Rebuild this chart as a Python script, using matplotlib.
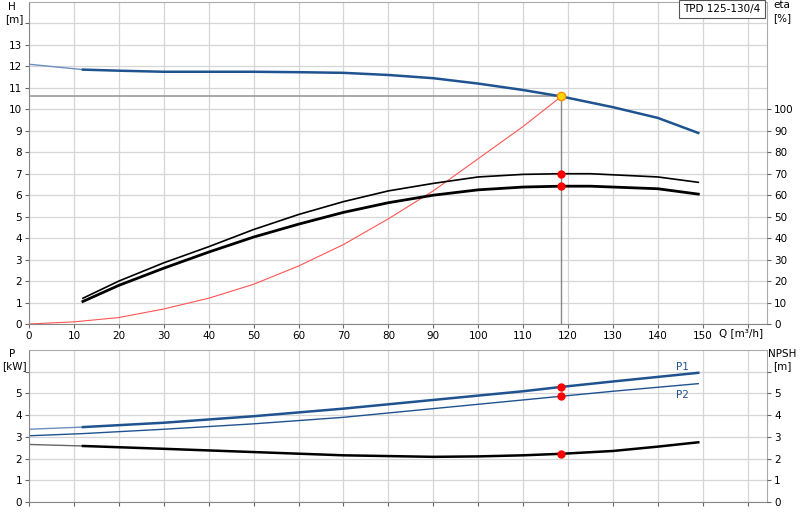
import matplotlib
matplotlib.use("Agg")
import matplotlib.pyplot as plt

q_h = [0, 12, 20, 30, 40, 50, 60, 70, 80, 90, 100, 110, 118.5, 130, 140, 149]
h = [12.1, 11.85, 11.8, 11.75, 11.75, 11.75, 11.73, 11.7, 11.6, 11.45, 11.2, 10.9, 10.6, 10.1, 9.6, 8.9]
q_eta = [12, 20, 30, 40, 50, 60, 70, 80, 90, 100, 110, 118.5, 125, 140, 149]
eta1 = [1.2, 2.0, 2.85, 3.6, 4.4, 5.1, 5.7, 6.2, 6.55, 6.85, 6.97, 7.0, 7.0, 6.85, 6.6]
eta2 = [1.05, 1.8, 2.6, 3.35, 4.05, 4.65, 5.2, 5.65, 6.0, 6.25, 6.38, 6.42, 6.42, 6.3, 6.05]
q_sys = [0, 10, 20, 30, 40, 50, 60, 70, 80, 90, 100, 110, 118.5]
h_sys = [0, 0.1, 0.3, 0.7, 1.2, 1.85, 2.7, 3.7, 4.9, 6.2, 7.7, 9.2, 10.6]
q_p = [0, 12, 30, 50, 70, 90, 110, 118.5, 130, 149]
p1 = [3.35, 3.45, 3.65, 3.95, 4.3, 4.7, 5.1, 5.3, 5.55, 5.95]
p2 = [3.05, 3.15, 3.35, 3.6, 3.9, 4.3, 4.7, 4.87, 5.1, 5.45]
q_n = [0, 12, 30, 50, 70, 90, 100, 110, 118.5, 130, 140, 149]
npsh = [2.65, 2.58, 2.45, 2.3, 2.15, 2.08, 2.1, 2.15, 2.22, 2.35, 2.55, 2.75]
q_op, h_op = 118.5, 10.6

BLUE = "#1f5390"
W, H_ = 800, 520
fig = plt.figure(figsize=(8, 5.2), dpi=100)
ax = fig.add_axes([29/W, 1-324/H_, 738/W, 322/H_])
bx = fig.add_axes([29/W, 1-502/H_, 738/W, 152/H_])
fs = 7.5

def style(a, ymax, ticks):
    a.set_xlim(0, 164.3)
    a.set_ylim(0, ymax)
    a.set_xticks(range(0, 161, 10))
    a.set_yticks(ticks)
    a.grid(True, color="#d6d6d6", lw=0.9)
    a.set_axisbelow(True)
    for s in a.spines.values():
        s.set_color("#aaaaaa")
    a.spines["left"].set_color("#888888")
    a.spines["bottom"].set_color("#888888")
    a.tick_params(labelsize=fs, length=3, color="#666666", pad=2)

style(ax, 15, range(0, 15))
ax.set_yticklabels([str(i) if i <= 13 else "" for i in range(0, 15)])
ax.set_xticklabels([str(i) if i <= 150 else "" for i in range(0, 161, 10)])
style(bx, 7, range(0, 7))
bx.set_yticklabels([str(i) if i <= 5 else "" for i in range(0, 7)])
bx.set_xticklabels([])

ax2 = ax.twinx()
ax2.set_ylim(0, 150)
ax2.set_yticks(range(0, 101, 10))
ax2.tick_params(labelsize=fs, length=3, color="#666666", pad=2)
for s in ax2.spines.values():
    s.set_visible(False)
bx2 = bx.twinx()
bx2.set_ylim(0, 7)
bx2.set_yticks(range(0, 7))
bx2.set_yticklabels([str(i) if i <= 5 else "" for i in range(0, 7)])
bx2.tick_params(labelsize=fs, length=3, color="#666666", pad=2)
for s in bx2.spines.values():
    s.set_visible(False)

ax.plot([0, q_op], [h_op, h_op], color="#999999", lw=1.2)
ax.plot([q_op, q_op], [0, h_op], color="#888888", lw=1)
ax.plot(q_sys, h_sys, color="#ff5555", lw=0.8)
ax.plot(q_h[:2], h[:2], color="#6a8fbf", lw=1)
ax.plot(q_h[1:], h[1:], color=BLUE, lw=1.8)
ax.plot(q_eta, eta1, color="black", lw=1.2)
ax.plot(q_eta, eta2, color="black", lw=2)
ax.plot([q_op], [h_op], "o", ms=6, mfc="#ffd700", mec="#ff8c00", zorder=5)
ax.plot([q_op, q_op], [7.0, 6.42], "o", ms=5, color="red", zorder=5)

bx.plot(q_p[:2], p1[:2], color="#6a8fbf", lw=1)
bx.plot(q_p[1:], p1[1:], color=BLUE, lw=1.8)
bx.plot(q_p, p2, color=BLUE, lw=1)
bx.plot(q_n[:2], npsh[:2], color="#666666", lw=1)
bx.plot(q_n[1:], npsh[1:], color="black", lw=1.8)
bx.plot([q_op] * 3, [5.3, 4.87, 2.22], "o", ms=5, color="red", zorder=5)
bx.text(147, 6.1, "P1", color=BLUE, fontsize=fs, ha="right")
bx.text(147, 4.8, "P2", color=BLUE, fontsize=fs, ha="right")

fig.text(12/W, 1-10/H_, "H", fontsize=fs, ha="center")
fig.text(14/W, 1-22/H_, "[m]", fontsize=fs, ha="center")
fig.text(782/W, 1-8/H_, "eta", fontsize=fs, ha="center")
fig.text(782/W, 1-21/H_, "[%]", fontsize=fs, ha="center")
fig.text(12/W, 1-357/H_, "P", fontsize=fs, ha="center")
fig.text(14/W, 1-369/H_, "[kW]", fontsize=fs, ha="center")
fig.text(782/W, 1-357/H_, "NPSH", fontsize=fs, ha="center")
fig.text(782/W, 1-369/H_, "[m]", fontsize=fs, ha="center")
fig.text(741/W, 1-336/H_, "Q [m³/h]", fontsize=fs, ha="center")
fig.text(722/W, 1-12/H_, "TPD 125-130/4", fontsize=fs, ha="center",
         bbox=dict(boxstyle="square,pad=0.4", fc="white", ec="#555555", lw=0.8))

fig.savefig("out.png", dpi=100)
